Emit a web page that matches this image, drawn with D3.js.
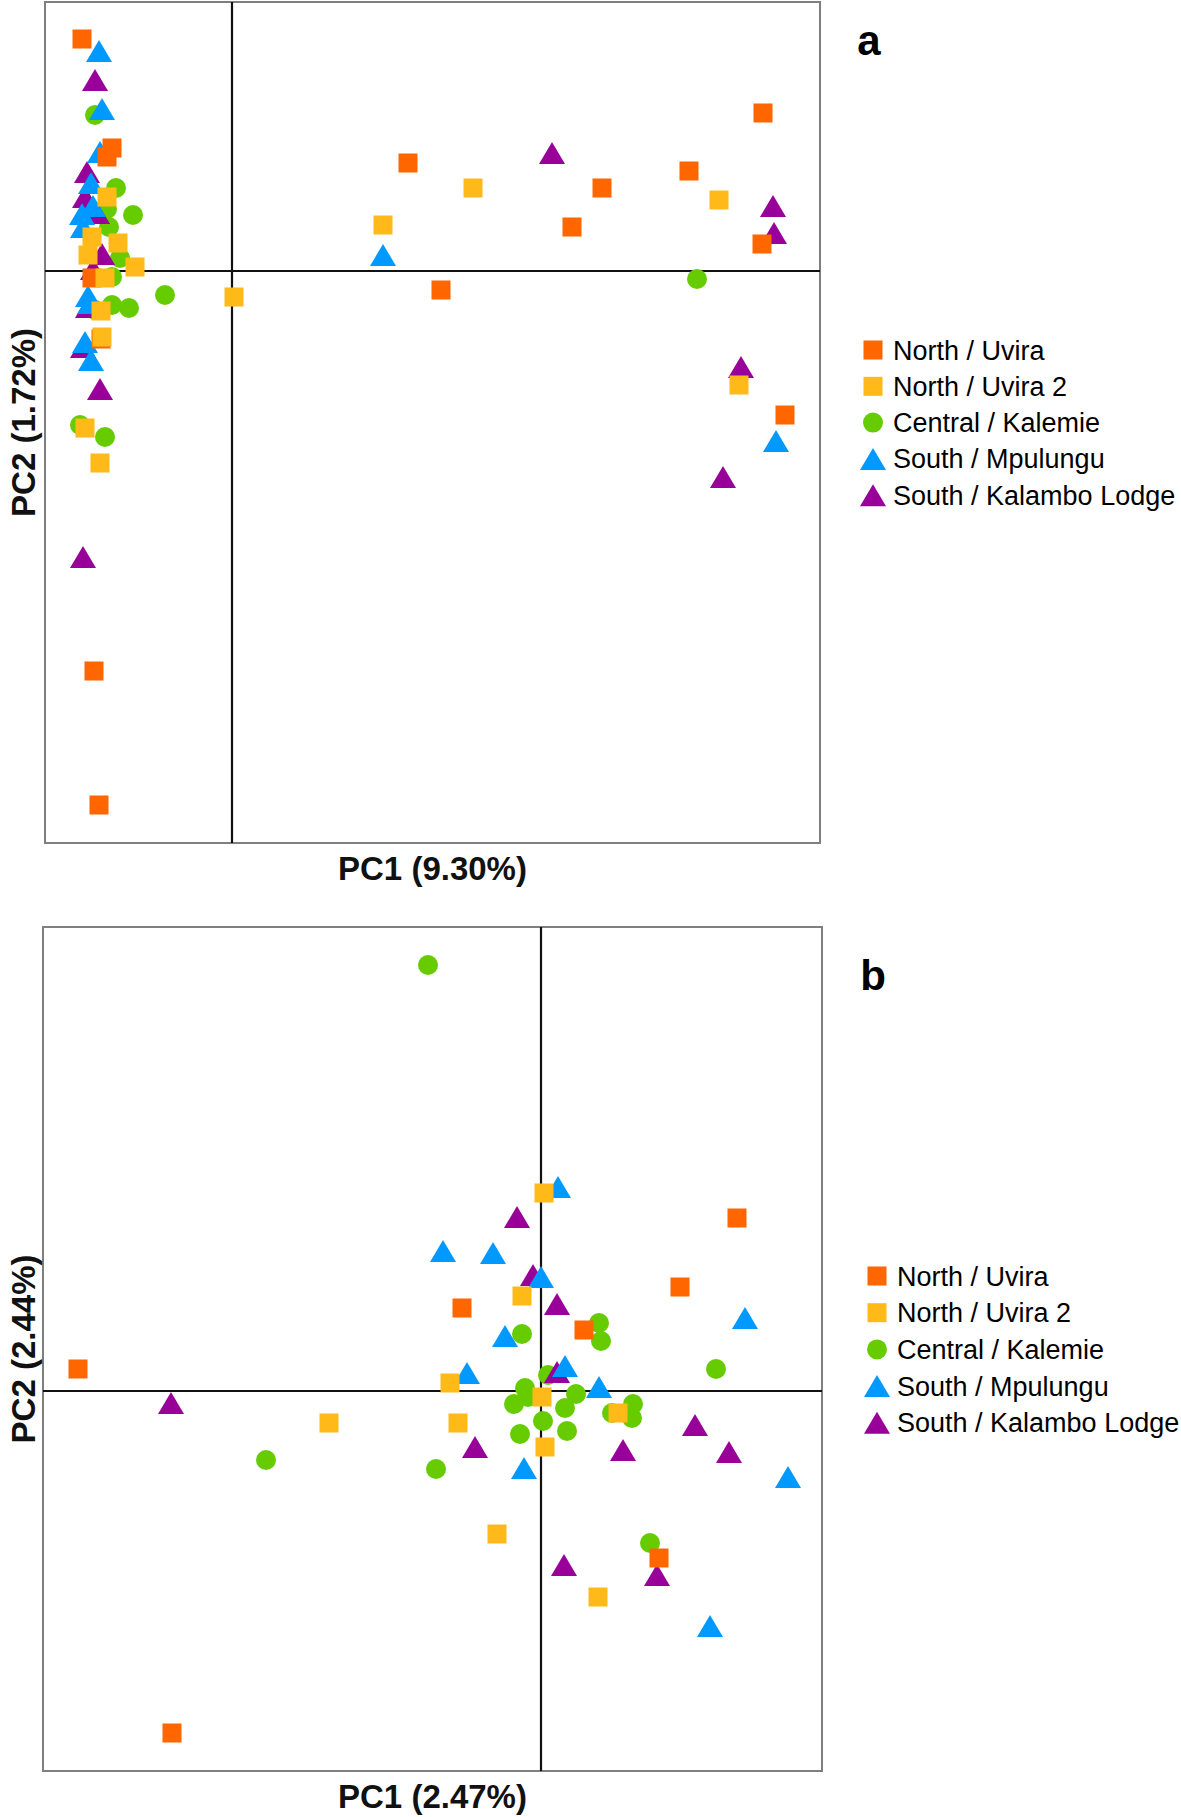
<!DOCTYPE html>
<html><head><meta charset="utf-8">
<script src="https://cdn.jsdelivr.net/npm/d3@7"></script>
<style>body{margin:0;background:#fff}svg{display:block}text{font-family:"Liberation Sans",Arial,sans-serif}</style>
</head><body>
<script>
// ---- categories ----
const groups = ["North / Uvira","North / Uvira 2","Central / Kalemie","South / Mpulungu","South / Kalambo Lodge"];
const colors = ["#FF6600","#FFB919","#66CC00","#0099FF","#990099"];
const shapes = ["square","square","circle","triangle","triangle"];
const drawOrder = [2,4,3,0,1];

// ---- panel a (PC1 9.30%, PC2 1.72%) : [PC1, PC2] ----
const a_northUvira = [[-1.50,2.32],[-1.20,1.23],[-1.25,1.14],[-1.40,-0.07],[-1.31,-0.68],[-1.38,-4.00],[-1.33,-5.34],[1.76,1.08],[3.70,0.83],[3.40,0.44],[2.09,-0.19],[4.57,1.00],[5.31,1.58],[5.30,0.27],[5.53,-1.44]];
const a_northUvira2 = [[-1.25,0.74],[-1.40,0.34],[-1.14,0.28],[-1.44,0.16],[-0.97,0.04],[-1.27,-0.07],[-1.31,-0.40],[-1.30,-0.66],[-1.47,-1.57],[-1.32,-1.92],[0.02,-0.26],[1.51,0.46],[2.41,0.83],[4.87,0.71],[5.07,-1.14]];
const a_central = [[-1.37,1.56],[-1.16,0.83],[-1.25,0.62],[-0.99,0.56],[-1.23,0.44],[-1.12,0.13],[-1.20,-0.06],[-0.67,-0.24],[-1.20,-0.34],[-1.03,-0.37],[-1.37,-0.39],[-1.52,-1.54],[-1.27,-1.66],[4.65,-0.08]];
const a_mpulungu = [[-1.33,2.20],[-1.30,1.62],[-1.32,1.19],[-1.41,0.88],[-1.39,0.65],[-1.50,0.57],[-1.49,0.44],[-1.44,-0.25],[-1.42,-0.32],[-1.47,-0.71],[-1.41,-0.89],[1.51,0.16],[5.44,-1.70]];
const a_kalambo = [[-1.37,1.91],[-1.45,0.99],[-1.47,0.74],[-1.35,0.58],[-1.30,0.17],[-1.39,0.02],[-1.44,-0.36],[-1.49,-0.76],[-1.32,-1.18],[-1.49,-2.86],[3.20,1.18],[5.41,0.65],[5.42,0.38],[5.09,-0.96],[4.91,-2.06]];

// ---- panel b (PC1 2.47%, PC2 2.44%) ----
const b_northUvira = [[1.96,1.73],[1.39,1.04],[-0.79,0.83],[0.43,0.61],[-4.63,0.22],[1.18,-1.67],[-3.69,-3.42]];
const b_northUvira2 = [[0.03,1.98],[-0.19,0.95],[-0.91,0.08],[0.01,-0.06],[-2.12,-0.32],[-0.83,-0.32],[0.77,-0.22],[0.04,-0.56],[-0.44,-1.43],[0.57,-2.06]];
const b_central = [[-1.13,4.26],[0.58,0.68],[0.60,0.50],[-0.19,0.57],[0.07,0.16],[1.75,0.22],[-0.16,0.03],[-0.13,-0.06],[-0.27,-0.13],[0.35,-0.03],[0.24,-0.17],[0.02,-0.30],[-0.21,-0.43],[0.26,-0.40],[0.92,-0.13],[0.71,-0.22],[0.91,-0.27],[-2.75,-0.69],[-1.05,-0.78],[1.09,-1.52]];
const b_mpulungu = [[0.17,2.04],[-0.98,1.40],[-0.48,1.38],[0.00,1.14],[2.04,0.73],[-0.36,0.55],[-0.74,0.18],[0.24,0.25],[0.58,0.04],[-0.17,-0.77],[2.47,-0.86],[1.69,-2.35]];
const b_kalambo = [[-0.24,1.74],[-0.08,1.16],[0.16,0.87],[0.16,0.19],[-3.70,-0.12],[1.54,-0.34],[1.88,-0.61],[0.82,-0.59],[-0.66,-0.56],[0.23,-1.74],[1.16,-1.84]];

const panels = [
  {label:"a", xTitle:"PC1 (9.30%)", yTitle:"PC2 (1.72%)", xDomain:[-1.87,5.88], yDomain:[-5.72,2.69],
   series:[a_northUvira,a_northUvira2,a_central,a_mpulungu,a_kalambo],
   box:{x0:45,x1:820,y0:2,y1:843}, legend:{x:873,y:350,dy:36.3}, labelPos:{x:869,y:55}},
  {label:"b", xTitle:"PC1 (2.47%)", yTitle:"PC2 (2.44%)", xDomain:[-4.98,2.81], yDomain:[-3.80,4.64],
   series:[b_northUvira,b_northUvira2,b_central,b_mpulungu,b_kalambo],
   box:{x0:43,x1:822,y0:927,y1:1771}, legend:{x:877,y:1276,dy:36.7}, labelPos:{x:873,y:990}}
];

const W=1181,H=1817;
const svg=d3.select("body").append("svg").attr("width",W).attr("height",H);

function drawMarker(g, shape, color, cx, cy){
  if(shape==="square"){
    g.append("rect").attr("x",cx-9.5).attr("y",cy-9.5).attr("width",19).attr("height",19).attr("fill",color);
  } else if(shape==="circle"){
    g.append("circle").attr("cx",cx).attr("cy",cy).attr("r",10).attr("fill",color);
  } else {
    g.append("path").attr("d",`M${cx},${cy-11}L${cx+13},${cy+11}L${cx-13},${cy+11}Z`).attr("fill",color);
  }
}

panels.forEach(p=>{
  const b=p.box;
  const x=d3.scaleLinear().domain(p.xDomain).range([b.x0,b.x1]);
  const y=d3.scaleLinear().domain(p.yDomain).range([b.y1,b.y0]);
  const g=svg.append("g");
  // frame
  g.append("rect").attr("x",b.x0).attr("y",b.y0).attr("width",b.x1-b.x0).attr("height",b.y1-b.y0)
    .attr("fill","none").attr("stroke","#7f7f7f").attr("stroke-width",2);
  // zero axes
  g.append("line").attr("x1",x(0)).attr("x2",x(0)).attr("y1",b.y0).attr("y2",b.y1).attr("stroke","#111").attr("stroke-width",2.2);
  g.append("line").attr("x1",b.x0).attr("x2",b.x1).attr("y1",y(0)).attr("y2",y(0)).attr("stroke","#111").attr("stroke-width",2.2);
  // points
  drawOrder.forEach(i=>{
    const gg=g.append("g");
    p.series[i].forEach(d=>drawMarker(gg,shapes[i],colors[i],x(d[0]),y(d[1])));
  });
  // axis titles
  g.append("text").attr("x",(b.x0+b.x1)/2).attr("y",b.y1+37).attr("text-anchor","middle")
    .attr("font-weight","bold").attr("font-size",33).attr("fill","#111").text(p.xTitle);
  g.append("text").attr("transform",`translate(35,${(b.y0+b.y1)/2}) rotate(-90)`).attr("text-anchor","middle")
    .attr("font-weight","bold").attr("font-size",33).attr("fill","#111").text(p.yTitle);
  // panel label
  g.append("text").attr("x",p.labelPos.x).attr("y",p.labelPos.y).attr("text-anchor","middle")
    .attr("font-weight","bold").attr("font-size",42).attr("fill","#000").text(p.label);
  // legend
  groups.forEach((name,i)=>{
    const ly=p.legend.y+i*p.legend.dy;
    drawMarker(g,shapes[i],colors[i],p.legend.x,ly);
    g.append("text").attr("x",p.legend.x+20).attr("y",ly+9.5).attr("font-size",27).attr("fill","#000").text(name);
  });
});
</script>
</body></html>
